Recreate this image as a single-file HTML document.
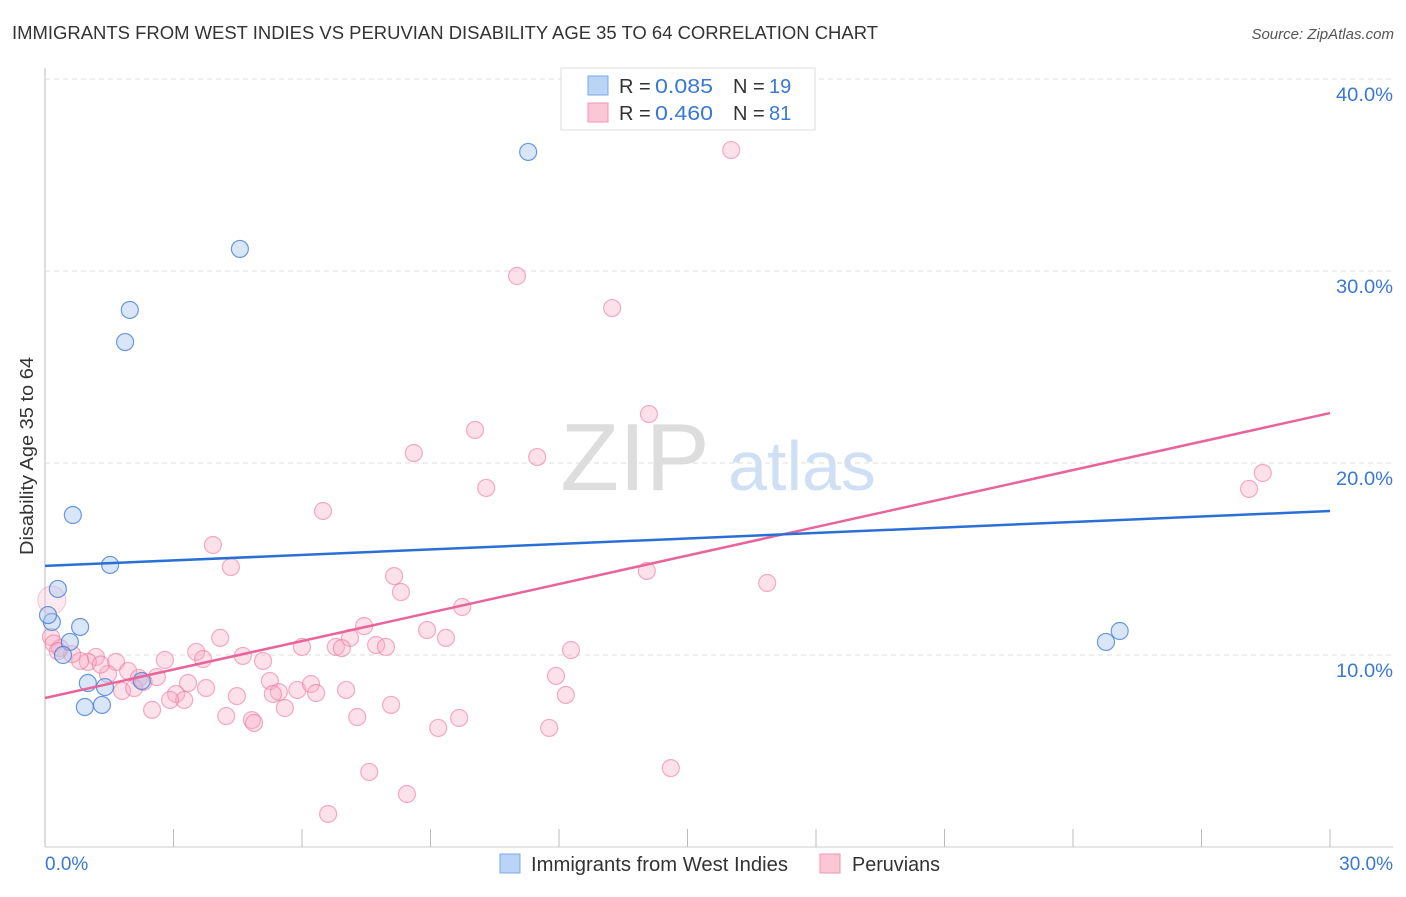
<!DOCTYPE html>
<html><head><meta charset="utf-8"><style>
body{margin:0;background:#fff;font-family:"Liberation Sans",sans-serif}
svg text{font-family:"Liberation Sans",sans-serif}
</style></head><body>
<svg id="c" width="1406" height="892">
<text x="12" y="39" font-size="18" fill="#333" textLength="866" lengthAdjust="spacingAndGlyphs">IMMIGRANTS FROM WEST INDIES VS PERUVIAN DISABILITY AGE 35 TO 64 CORRELATION CHART</text>
<text x="1394" y="39" font-size="15" fill="#555" font-style="italic" text-anchor="end">Source: ZipAtlas.com</text>
<text transform="translate(33,456) rotate(-90)" font-size="18" fill="#333" text-anchor="middle" textLength="198" lengthAdjust="spacingAndGlyphs">Disability Age 35 to 64</text>
<g><text x="635" y="490" font-size="96" fill="#ddd" font-family="Liberation Serif" text-anchor="middle">ZIP</text><text x="802" y="490" font-size="70" fill="#cfe0f4" text-anchor="middle">atlas</text></g>
<g id="grid"></g><g id="marks"></g>
<g>
<rect x="561" y="68" width="254" height="62" fill="#fff" stroke="#ddd"/>
<rect x="588" y="76" width="20" height="19" fill="#b9d4f6" stroke="#7aaae6"/>
<rect x="588" y="103" width="20" height="19" fill="#fbc6d6" stroke="#f095b3"/>
<text x="619" y="93" font-size="20" fill="#333">R = </text><text x="655" y="93" font-size="20" fill="#3a78d4" textLength="58" lengthAdjust="spacingAndGlyphs">0.085</text>
<text x="733" y="93" font-size="20" fill="#333">N = </text><text x="769" y="93" font-size="20" fill="#3a78d4">19</text>
<text x="619" y="120" font-size="20" fill="#333">R = </text><text x="655" y="120" font-size="20" fill="#3a78d4" textLength="58" lengthAdjust="spacingAndGlyphs">0.460</text>
<text x="733" y="120" font-size="20" fill="#333">N = </text><text x="769" y="120" font-size="20" fill="#3a78d4">81</text>
</g>
<g>
<rect x="500" y="854" width="20" height="19" fill="#b9d4f6" stroke="#7aaae6"/>
<text x="531" y="871" font-size="20" fill="#333" textLength="257" lengthAdjust="spacingAndGlyphs">Immigrants from West Indies</text>
<rect x="820" y="854" width="20" height="19" fill="#fbc6d6" stroke="#f095b3"/>
<text x="852" y="871" font-size="20" fill="#333" textLength="88" lengthAdjust="spacingAndGlyphs">Peruvians</text>
</g>
</svg>
<script>
const yTicks=[10,20,30,40];
const yTickLabels=["10.0%","20.0%","30.0%","40.0%"];
const xTickLabels=["0.0%","30.0%"];
const blueX=[11.28,4.55,1.98,1.87,0.65,1.52,0.30,0.16,0.82,0.58,0.42,2.26,1.0,1.40,0.93,1.33,24.77,25.09,0.07];
const blueY=[36.2,31.15,27.97,26.3,17.29,14.69,13.44,11.72,11.46,10.68,10.0,8.65,8.54,8.33,7.29,7.4,10.68,11.25,12.08];
const pinkX=[16.02,11.02,13.24,14.1,10.04,8.61,11.49,10.3,6.49,28.43,28.11,3.92,4.34,14.05,16.86,8.15,8.31,9.74,7.45,8.92,9.36,7.12,4.09,7.73,7.96,6.79,6.93,6.0,12.28,3.53,4.62,3.69,5.09,2.80,1.19,1.0,0.82,0.63,0.35,0.14,0.16,1.66,1.94,1.47,2.61,2.19,3.34,5.25,11.93,1.80,2.08,3.06,3.76,5.46,5.89,6.21,6.33,7.03,4.48,5.32,3.25,2.92,12.16,8.08,5.6,2.5,4.23,4.83,4.88,7.29,9.67,9.18,11.77,14.61,7.57,8.45,6.61,0.2,0.3,1.3,2.3];
const pinkY=[36.3,29.74,28.07,22.55,21.72,20.52,20.31,18.7,17.5,19.48,18.65,15.73,14.58,14.38,13.75,14.11,13.28,12.5,11.51,11.3,10.89,10.89,10.89,10.52,10.42,10.42,10.36,10.42,10.26,10.16,9.95,9.79,9.69,9.74,9.9,9.64,9.69,10.05,10.36,10.94,12.86,9.64,9.17,9.01,8.85,8.8,8.54,8.65,8.91,8.13,8.28,7.97,8.28,8.07,8.18,8.49,8.02,8.18,7.86,7.97,7.66,7.66,7.92,7.4,7.24,7.14,6.82,6.61,6.46,6.77,6.72,6.2,6.2,4.11,3.91,2.76,1.72,10.6,10.2,9.5,8.6];
const blueLine=[14.64,17.5];
const pinkLine=[7.76,22.6];
const NS="http://www.w3.org/2000/svg";
const X=v=>45+v/30*1285, Y=v=>847-v*19.2;
function mk(t,a,p){const e=document.createElementNS(NS,t);for(const k in a)e.setAttribute(k,a[k]);p.appendChild(e);return e;}
const g=document.getElementById('grid'),m=document.getElementById('marks');
let ax=mk('line',{x1:45,y1:68,x2:45,y2:847,stroke:'#bbb'},g);

let bx=mk('line',{x1:45,y1:847,x2:1393,y2:847,stroke:'#ccc'},g);

for(let k=0;k<=10;k++){let t=mk('line',{x1:X(k*3),y1:829,x2:X(k*3),y2:847,stroke:'#bbb'},g);
}
let gl=mk('line',{x1:45,y1:79,x2:1393,y2:79,stroke:'#ddd','stroke-dasharray':'5,4'},g);

yTicks.forEach((v,i)=>{let l=mk('line',{x1:45,y1:Y(v),x2:1393,y2:Y(v),stroke:'#ddd','stroke-dasharray':'5,4'},g);

let t=mk('text',{x:1393,y:Y(v)+22,'font-size':19,fill:'#3a78d4','text-anchor':'end',textLength:57,lengthAdjust:'spacingAndGlyphs'},g);t.textContent=yTickLabels[i];
});
[[0,'start',45],[30,'end',1393]].forEach((d,i)=>{let t=mk('text',{x:d[2],y:870,'font-size':19,fill:'#3a78d4','text-anchor':d[1]},g);t.textContent=xTickLabels[i];
});
pinkX.forEach((v,i)=>{let big=i==40;let c=mk('circle',{cx:X(v),cy:Y(pinkY[i]),r:(big?14:8.5),fill:big?'rgba(248,170,195,0.25)':'rgba(248,170,195,0.35)',stroke:'rgba(236,120,160,'+(big?0.35:0.6)+')','stroke-width':1.2},m);
});
blueX.forEach((v,i)=>{let c=mk('circle',{cx:X(v),cy:Y(blueY[i]),r:8.5,fill:'rgba(170,200,240,0.45)',stroke:'rgba(60,120,210,0.75)','stroke-width':1.2},m);
});
let pl=mk('line',{x1:X(0),y1:Y(pinkLine[0]),x2:X(30),y2:Y(pinkLine[1]),stroke:'#e8649a','stroke-width':2.5},m);

let bl=mk('line',{x1:X(0),y1:Y(blueLine[0]),x2:X(30),y2:Y(blueLine[1]),stroke:'#2a6fd6','stroke-width':2.5},m);

</script>
</body></html>
